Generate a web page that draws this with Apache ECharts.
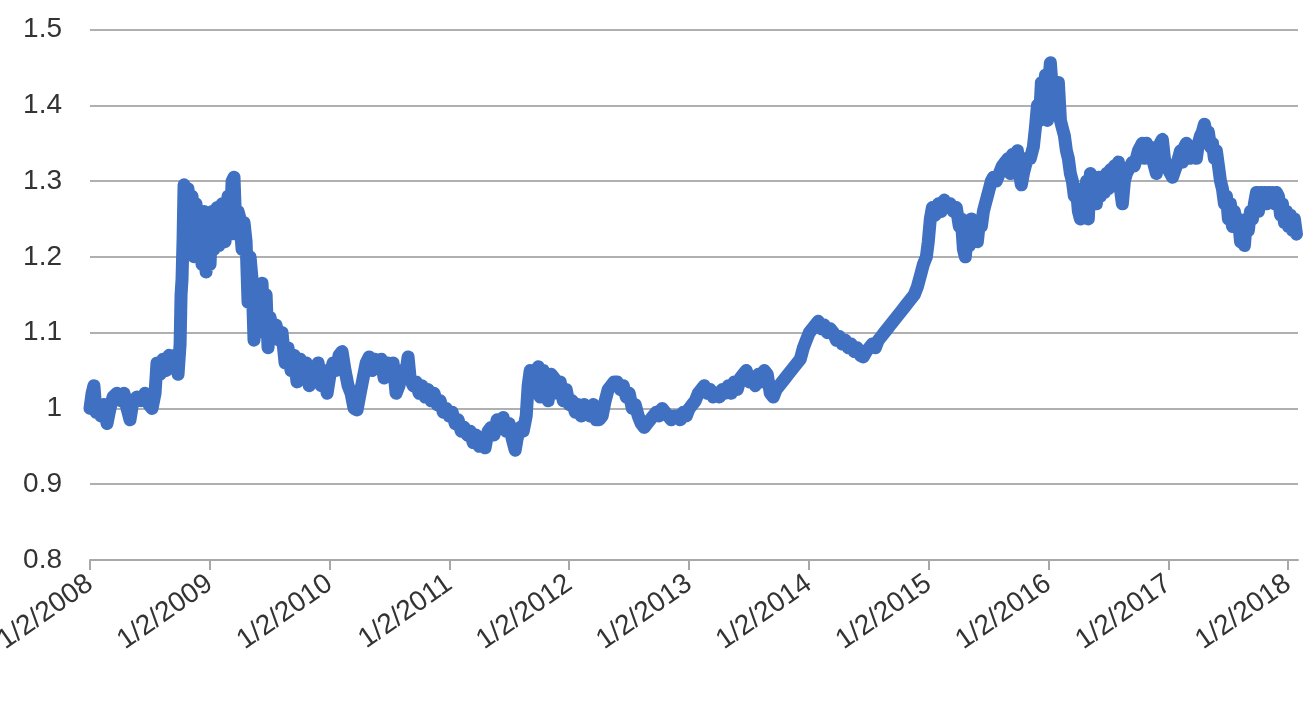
<!DOCTYPE html>
<html>
<head>
<meta charset="utf-8">
<script src="https://cdn.jsdelivr.net/npm/echarts@6/dist/echarts.min.js"></script>
<style>
html,body{margin:0;padding:0;background:#fff;}
#chart{width:1303px;height:708px;}
</style>
</head>
<body>
<div id="chart"></div>
<script>
// x values are decimal years (2008.0 = 1/2/2008)
const t2008 = [2008.000,2008.017,2008.033,2008.050,2008.075,2008.092,2008.117,2008.142,2008.167,2008.192,2008.225,2008.259,2008.284,2008.309,2008.334,2008.359,2008.392,2008.426,2008.459,2008.493,2008.518,2008.543,2008.559,2008.585,2008.610,2008.635,2008.660,2008.685,2008.710,2008.735,2008.752,2008.760,2008.768,2008.777,2008.785,2008.802,2008.818,2008.835,2008.852,2008.868,2008.885,2008.902,2008.919,2008.935,2008.952,2008.969,2008.985];
const v2008 = [1.00,1.02,1.03,0.995,1.005,0.99,1.005,0.98,1.00,1.015,1.02,1.01,1.02,1.00,0.985,1.01,1.015,1.01,1.02,1.005,1.00,1.02,1.06,1.045,1.065,1.05,1.07,1.055,1.07,1.045,1.085,1.15,1.17,1.225,1.295,1.21,1.29,1.22,1.28,1.20,1.27,1.21,1.25,1.19,1.26,1.18,1.25];

const t2009 = [2009.002,2009.019,2009.035,2009.060,2009.077,2009.102,2009.127,2009.152,2009.169,2009.186,2009.202,2009.219,2009.236,2009.253,2009.269,2009.286,2009.303,2009.319,2009.336,2009.353,2009.369,2009.386,2009.403,2009.420,2009.436,2009.453,2009.470,2009.486,2009.503,2009.528,2009.553,2009.578,2009.603,2009.628,2009.653,2009.678,2009.703,2009.728,2009.754,2009.779,2009.804,2009.829,2009.854,2009.879,2009.904,2009.929,2009.954,2009.979];
const v2009 = [1.19,1.26,1.21,1.265,1.215,1.27,1.22,1.28,1.23,1.30,1.305,1.23,1.26,1.25,1.21,1.245,1.22,1.14,1.20,1.17,1.09,1.14,1.11,1.155,1.165,1.10,1.15,1.08,1.12,1.10,1.11,1.09,1.10,1.06,1.08,1.05,1.07,1.035,1.065,1.04,1.06,1.03,1.055,1.04,1.06,1.03,1.05,1.02];

const t2010 = [2010.004,2010.029,2010.054,2010.079,2010.104,2010.129,2010.154,2010.179,2010.204,2010.229,2010.255,2010.280,2010.305,2010.330,2010.355,2010.380,2010.405,2010.430,2010.455,2010.480,2010.505,2010.530,2010.555,2010.580,2010.605,2010.630,2010.655,2010.672,2010.697,2010.722,2010.747,2010.772,2010.797,2010.822,2010.847,2010.872,2010.897,2010.923,2010.948,2010.973,2010.998];
const v2010 = [1.045,1.06,1.05,1.07,1.075,1.05,1.03,1.02,1.00,0.998,1.02,1.04,1.06,1.068,1.05,1.065,1.055,1.065,1.04,1.06,1.045,1.06,1.02,1.03,1.05,1.04,1.068,1.04,1.03,1.035,1.02,1.03,1.015,1.025,1.01,1.02,1.005,1.01,0.995,1.0,0.99];

const t2011 = [2011.023,2011.048,2011.073,2011.098,2011.123,2011.148,2011.173,2011.198,2011.223,2011.248,2011.273,2011.298,2011.323,2011.348,2011.373,2011.398,2011.424,2011.449,2011.474,2011.499,2011.524,2011.549,2011.565,2011.591,2011.616,2011.641,2011.657,2011.674,2011.691,2011.716,2011.741,2011.758,2011.783,2011.808,2011.824,2011.849,2011.874,2011.899,2011.925,2011.950,2011.975];
const v2011 = [0.995,0.98,0.985,0.97,0.975,0.965,0.97,0.955,0.965,0.95,0.96,0.948,0.97,0.975,0.965,0.985,0.975,0.988,0.97,0.98,0.96,0.945,0.96,0.975,0.97,0.99,1.03,1.05,1.02,1.04,1.055,1.015,1.05,1.03,1.01,1.045,1.04,1.02,1.035,1.01,1.025];

const t2012 = [2012.000,2012.025,2012.050,2012.075,2012.100,2012.125,2012.150,2012.175,2012.200,2012.225,2012.250,2012.275,2012.300,2012.325,2012.350,2012.375,2012.400,2012.426,2012.451,2012.476,2012.501,2012.526,2012.551,2012.576,2012.601,2012.626,2012.651,2012.676,2012.701,2012.726,2012.751,2012.776,2012.801,2012.826,2012.851,2012.876,2012.901,2012.927,2012.952,2012.977];
const v2012 = [1.005,1.01,0.995,1.005,0.99,1.005,1.0,0.99,1.005,0.985,0.985,0.99,1.01,1.025,1.03,1.035,1.035,1.025,1.03,1.015,1.02,1.00,1.005,0.99,0.98,0.975,0.98,0.985,0.99,0.995,0.99,1.00,0.995,0.99,0.985,0.99,0.99,0.985,0.995,0.99];

const t2013 = [2013.002,2013.027,2013.052,2013.077,2013.102,2013.127,2013.152,2013.177,2013.202,2013.227,2013.253,2013.278,2013.303,2013.328,2013.353,2013.378,2013.403,2013.428,2013.453,2013.478,2013.503,2013.528,2013.553,2013.578,2013.603,2013.628,2013.653,2013.678,2013.703,2013.728,2013.753,2013.778,2013.803,2013.828,2013.853,2013.878,2013.903,2013.929,2013.954,2013.979];
const v2013 = [1.0,1.005,1.01,1.02,1.025,1.03,1.02,1.025,1.015,1.02,1.015,1.025,1.02,1.03,1.02,1.035,1.025,1.04,1.045,1.05,1.035,1.04,1.03,1.045,1.035,1.05,1.045,1.02,1.015,1.025,1.03,1.035,1.04,1.045,1.05,1.055,1.06,1.065,1.08,1.09];

const t2014 = [2014.004,2014.029,2014.054,2014.079,2014.104,2014.129,2014.154,2014.179,2014.204,2014.229,2014.254,2014.279,2014.304,2014.329,2014.354,2014.379,2014.404,2014.430,2014.455,2014.480,2014.505,2014.530,2014.555,2014.580,2014.605,2014.630,2014.655,2014.680,2014.705,2014.730,2014.755,2014.780,2014.805,2014.830,2014.855,2014.880,2014.905,2014.931,2014.956,2014.981,2014.997];
const v2014 = [1.10,1.105,1.11,1.115,1.105,1.11,1.10,1.105,1.10,1.09,1.095,1.085,1.09,1.08,1.085,1.075,1.08,1.07,1.068,1.075,1.08,1.085,1.08,1.09,1.095,1.10,1.105,1.11,1.115,1.12,1.125,1.13,1.135,1.14,1.145,1.15,1.16,1.175,1.19,1.20,1.22];

const t2015 = [2015.014,2015.031,2015.056,2015.081,2015.106,2015.131,2015.156,2015.181,2015.206,2015.231,2015.256,2015.273,2015.290,2015.306,2015.323,2015.340,2015.356,2015.373,2015.390,2015.407,2015.423,2015.440,2015.457,2015.473,2015.490,2015.507,2015.523,2015.540,2015.565,2015.590,2015.615,2015.640,2015.665,2015.682,2015.699,2015.724,2015.741,2015.757,2015.774,2015.791,2015.807,2015.824,2015.849,2015.874,2015.891,2015.908,2015.925,2015.941,2015.958,2015.975,2015.992];
const v2015 = [1.25,1.265,1.255,1.27,1.26,1.275,1.265,1.27,1.26,1.265,1.24,1.25,1.21,1.20,1.23,1.215,1.25,1.23,1.24,1.22,1.245,1.24,1.26,1.27,1.28,1.29,1.30,1.305,1.30,1.31,1.32,1.325,1.33,1.31,1.335,1.325,1.34,1.31,1.295,1.31,1.32,1.33,1.33,1.345,1.37,1.40,1.38,1.43,1.41,1.44,1.38];

const t2016 = [2016.008,2016.016,2016.033,2016.050,2016.066,2016.083,2016.100,2016.116,2016.133,2016.150,2016.166,2016.183,2016.200,2016.216,2016.233,2016.250,2016.267,2016.283,2016.300,2016.317,2016.333,2016.350,2016.367,2016.383,2016.400,2016.417,2016.434,2016.450,2016.467,2016.484,2016.500,2016.517,2016.534,2016.550,2016.567,2016.584,2016.600,2016.617,2016.634,2016.651,2016.667,2016.684,2016.701,2016.717,2016.734,2016.751,2016.767,2016.784,2016.801,2016.818,2016.834,2016.851,2016.868,2016.884,2016.901,2016.918,2016.934,2016.951,2016.968,2016.985];
const v2016 = [1.44,1.456,1.42,1.40,1.42,1.43,1.38,1.37,1.36,1.34,1.33,1.31,1.30,1.28,1.29,1.26,1.25,1.28,1.26,1.30,1.25,1.31,1.28,1.30,1.27,1.305,1.28,1.30,1.285,1.31,1.29,1.315,1.295,1.32,1.30,1.325,1.29,1.27,1.30,1.31,1.315,1.32,1.325,1.32,1.33,1.34,1.345,1.35,1.33,1.35,1.34,1.345,1.33,1.32,1.31,1.34,1.35,1.355,1.33,1.32];

const t2017 = [2017.001,2017.018,2017.035,2017.051,2017.068,2017.085,2017.102,2017.118,2017.135,2017.152,2017.168,2017.185,2017.202,2017.218,2017.235,2017.252,2017.269,2017.285,2017.302,2017.319,2017.335,2017.352,2017.369,2017.385,2017.402,2017.419,2017.436,2017.452,2017.469,2017.486,2017.502,2017.519,2017.536,2017.552,2017.569,2017.586,2017.603,2017.619,2017.636,2017.653,2017.669,2017.686,2017.703,2017.719,2017.736,2017.753,2017.770,2017.786,2017.803,2017.820,2017.836,2017.853,2017.870,2017.886,2017.903,2017.920,2017.937,2017.953,2017.970,2017.987];
const v2017 = [1.315,1.31,1.305,1.305,1.32,1.33,1.34,1.325,1.345,1.35,1.34,1.33,1.345,1.34,1.33,1.35,1.36,1.365,1.375,1.36,1.365,1.345,1.35,1.33,1.34,1.32,1.30,1.29,1.27,1.28,1.25,1.27,1.24,1.26,1.245,1.25,1.22,1.24,1.215,1.25,1.235,1.26,1.25,1.27,1.285,1.26,1.285,1.27,1.285,1.27,1.285,1.275,1.285,1.27,1.285,1.28,1.255,1.27,1.245,1.26];

const t2018 = [2018.003,2018.020,2018.037,2018.053,2018.070];
const v2018 = [1.24,1.255,1.235,1.25,1.23];

const tickYears = [2008,2009,2010,2011,2012,2013,2014,2015,2016,2017,2018];
const tickLabels = ['1/2/2008','1/2/2009','1/2/2010','1/2/2011','1/2/2012','1/2/2013','1/2/2014','1/2/2015','1/2/2016','1/2/2017','1/2/2018'];

const allT = [].concat(t2008,t2009,t2010,t2011,t2012,t2013,t2014,t2015,t2016,t2017,t2018);
const allV = [].concat(v2008,v2009,v2010,v2011,v2012,v2013,v2014,v2015,v2016,v2017,v2018);
const seriesData = allT.map((t, i) => [t, allV[i]]);

const FONT = '"Liberation Sans", Arial, Helvetica, sans-serif';
const chart = echarts.init(document.getElementById('chart'), null, {renderer: 'canvas'});
chart.setOption({
  animation: false,
  backgroundColor: '#ffffff',
  grid: {left: 90, right: 5, top: 29.5, bottom: 148, containLabel: false, outerBoundsMode: 'none'},
  xAxis: {
    type: 'value',
    min: 2008,
    max: 2018.083,
    axisLine: {show: true, lineStyle: {color: '#a8a8a8', width: 2}},
    axisTick: {show: true, customValues: tickYears, length: 10, lineStyle: {color: '#a8a8a8', width: 2}},
    axisLabel: {
      customValues: tickYears,
      rotate: 35,
      margin: 21,
      fontSize: 28,
      fontFamily: FONT,
      color: '#333333',
      formatter: function (v) {
        const idx = tickYears.indexOf(Math.round(v));
        return idx >= 0 ? tickLabels[idx] : '';
      }
    },
    splitLine: {show: false}
  },
  yAxis: {
    type: 'value',
    min: 0.8,
    max: 1.5,
    interval: 0.1,
    axisLine: {show: false},
    axisTick: {show: false},
    axisLabel: {
      margin: 28,
      fontSize: 28,
      fontFamily: FONT,
      color: '#333333',
      formatter: function (v) { return String(+v.toFixed(1)); }
    },
    splitLine: {show: true, lineStyle: {color: '#b0b0b0', width: 2}}
  },
  series: [{
    type: 'line',
    data: seriesData,
    showSymbol: false,
    symbol: 'none',
    clip: false,
    lineStyle: {color: '#3f70c2', width: 13, cap: 'round', join: 'round'}
  }]
});
</script>
</body>
</html>
